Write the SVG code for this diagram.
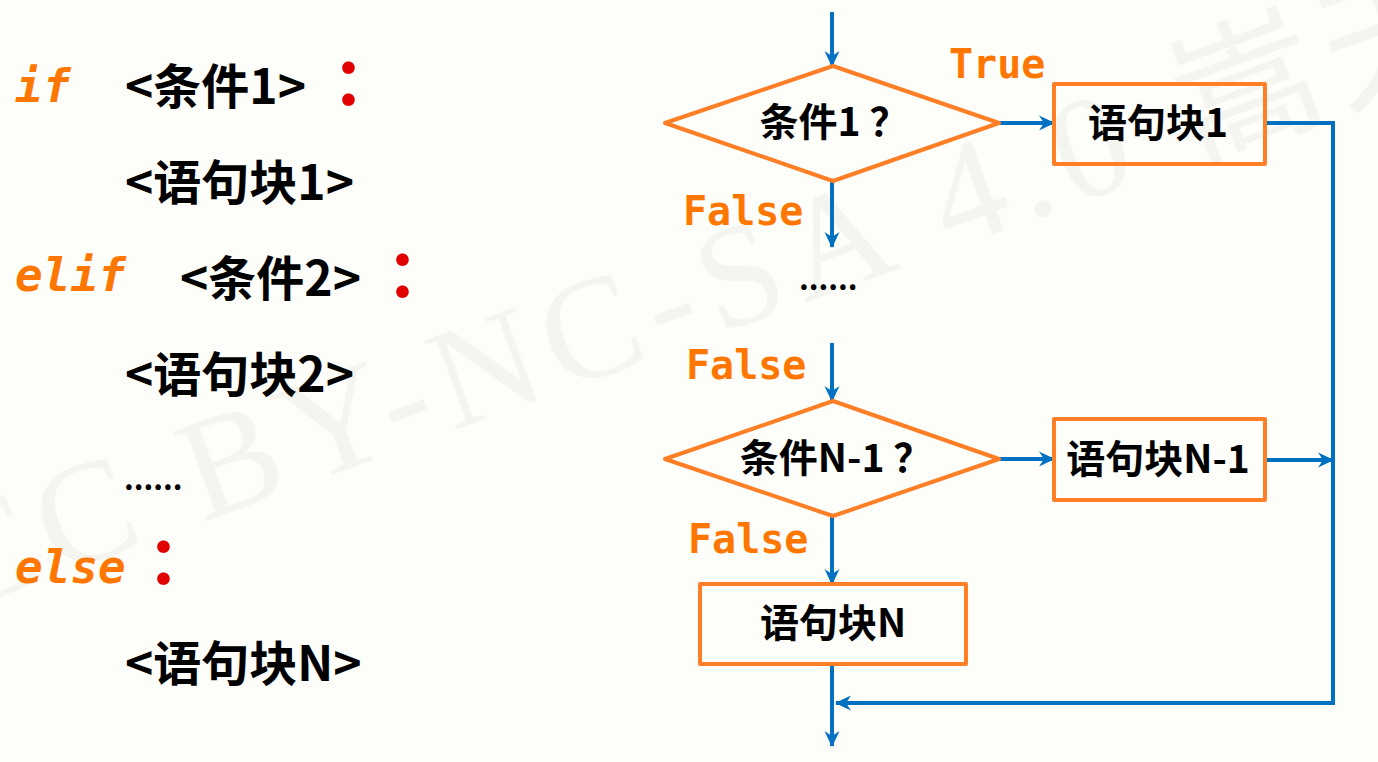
<svg xmlns="http://www.w3.org/2000/svg" width="1378" height="762" viewBox="0 0 1378 762">
  <defs>
    <marker id="arr" viewBox="0 0 16 16" markerWidth="16" markerHeight="16" refX="15" refY="8" orient="auto" markerUnits="userSpaceOnUse">
      <path d="M0,0.5 L16,8 L0,15.5 L5,8 Z" fill="#0070C0"/>
    </marker>
    <style>
      .wm { font-family: "Liberation Serif", "Noto Sans CJK SC", serif; font-size: 145px; fill: #f4f4f0; letter-spacing: 11px; }
      .kw { font-family: "DejaVu Sans Mono", monospace; font-style: italic; font-weight: bold; font-size: 46px; fill: #FF7700; }
      .code { font-family: "Noto Sans CJK SC", sans-serif; font-weight: bold; font-size: 48px; fill: #000; }
      .colon { font-family: "Noto Sans CJK SC", sans-serif; font-weight: bold; font-size: 66px; fill: #E00000; }
      .lbl { font-family: "DejaVu Sans Mono", monospace; font-weight: bold; font-size: 40px; fill: #FF7700; }
      .node { fill: none; stroke: #FF7F27; stroke-width: 4; stroke-linejoin: round; }
      .ntext { font-family: "Noto Sans CJK SC", sans-serif; font-weight: bold; font-size: 39px; fill: #000; text-anchor: middle; }
      .conn { fill: none; stroke: #0070C0; stroke-width: 4; }
      .dots { font-family: "Noto Sans CJK SC", sans-serif; font-weight: bold; font-size: 30px; fill: #000; }
    </style>
  </defs>
  <rect width="1378" height="762" fill="#fdfdf9"/>
  <text class="wm" x="-45" y="612" transform="rotate(-20 -45 612)">CC BY-NC-SA 4.0 嵩天</text>

  <g id="code">
    <text class="kw" x="15" y="102">if</text>
    <text class="code" x="125" y="104">&lt;条件1&gt;</text>
    <text class="colon" x="332" y="105">：</text>
    <text class="code" x="125" y="200">&lt;语句块1&gt;</text>
    <text class="kw" x="15" y="291">elif</text>
    <text class="code" x="180" y="296">&lt;条件2&gt;</text>
    <text class="colon" x="386" y="297">：</text>
    <text class="code" x="125" y="392">&lt;语句块2&gt;</text>
    <text class="dots" x="124" y="490">......</text>
    <text class="kw" x="15" y="583">else</text>
    <text class="colon" x="147" y="584">：</text>
    <text class="code" x="125" y="681">&lt;语句块N&gt;</text>
  </g>

  <g id="connectors">
    <line class="conn" x1="832" y1="12" x2="832" y2="66" marker-end="url(#arr)"/>
    <line class="conn" x1="999" y1="123" x2="1054" y2="123" marker-end="url(#arr)"/>
    <polyline class="conn" points="1265,123 1333,123 1333,703 836,703" marker-end="url(#arr)"/>
    <line class="conn" x1="832" y1="181" x2="832" y2="247" marker-end="url(#arr)"/>
    <line class="conn" x1="832" y1="343" x2="832" y2="401" marker-end="url(#arr)"/>
    <line class="conn" x1="999" y1="459" x2="1054" y2="459" marker-end="url(#arr)"/>
    <line class="conn" x1="1265" y1="460" x2="1333" y2="460" marker-end="url(#arr)"/>
    <line class="conn" x1="832" y1="516" x2="832" y2="584" marker-end="url(#arr)"/>
    <line class="conn" x1="832" y1="664" x2="832" y2="746" marker-end="url(#arr)"/>
  </g>

  <g id="labels">
    <text class="lbl" x="949" y="78">True</text>
    <text class="lbl" x="683" y="225">False</text>
    <text class="dots" x="799" y="290">......</text>
    <text class="lbl" x="686" y="379">False</text>
    <text class="lbl" x="688" y="553">False</text>
  </g>

  <g id="cond1">
    <polygon class="node" points="665,123 833,66 999,123 833,181"/>
    <text class="ntext" x="834" y="136">条件1 ？</text>
  </g>
  <g id="block1">
    <rect class="node" x="1054" y="84" width="211" height="80"/>
    <text class="ntext" x="1158" y="137">语句块1</text>
  </g>
  <g id="condN1">
    <polygon class="node" points="665,459 833,401 999,459 833,516"/>
    <text class="ntext" x="836" y="472">条件N-1 ？</text>
  </g>
  <g id="blockN1">
    <rect class="node" x="1054" y="419" width="211" height="81"/>
    <text class="ntext" x="1158" y="473">语句块N-1</text>
  </g>
  <g id="blockN">
    <rect class="node" x="700" y="584" width="266" height="80"/>
    <text class="ntext" x="833" y="637">语句块N</text>
  </g>
</svg>
